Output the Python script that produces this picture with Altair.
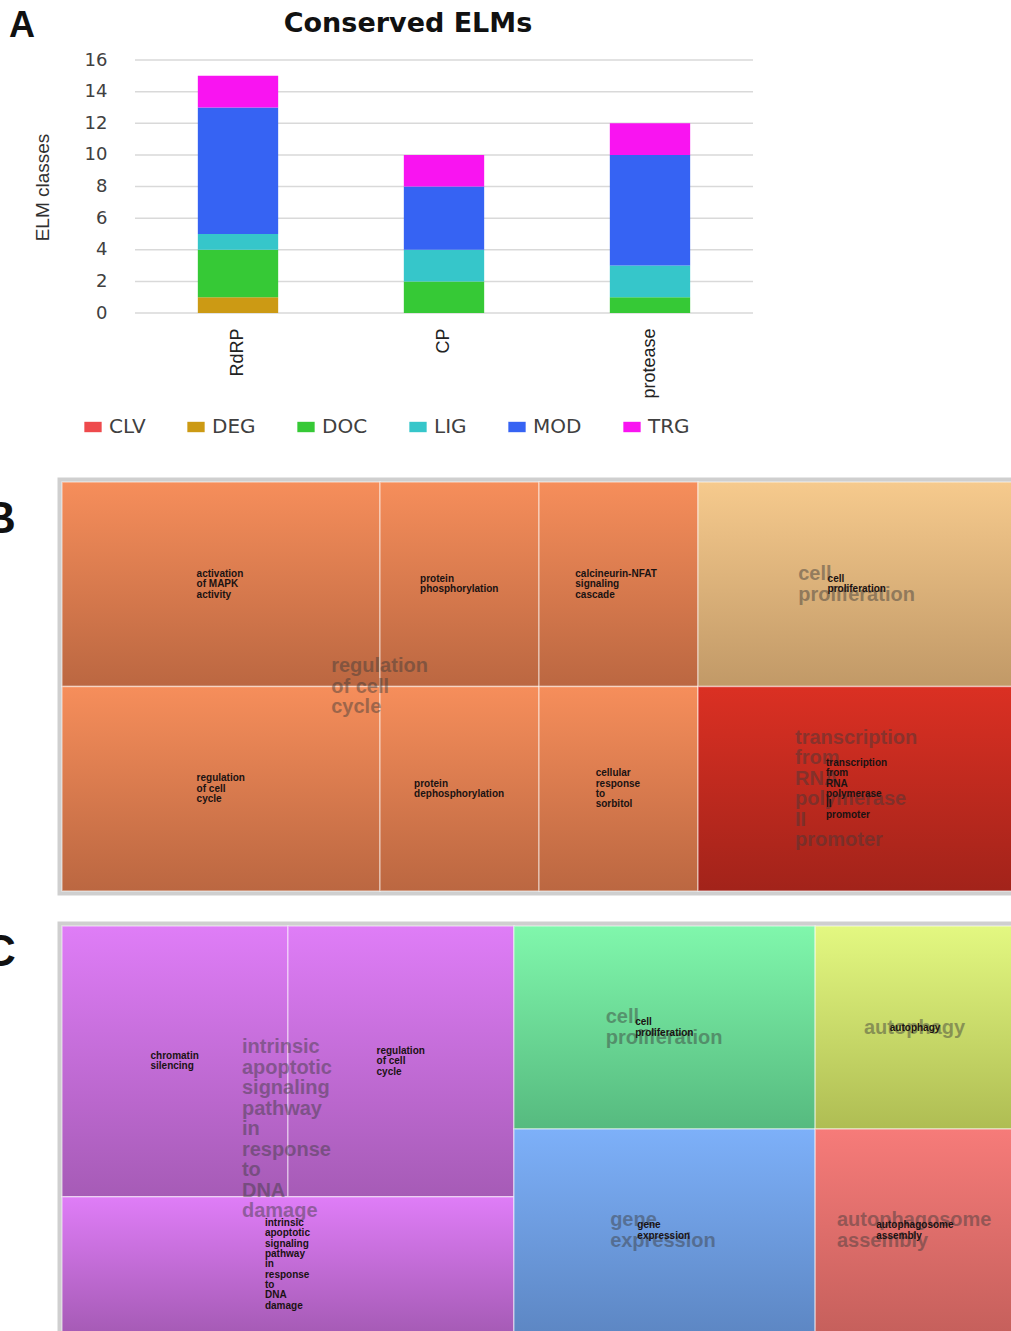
import altair as alt
import pandas as pd

# ---------------- Panel A : conserved ELMs ----------------
proteins = ["RdRP", "CP", "protease"]
elm_classes = ["CLV", "DEG", "DOC", "LIG", "MOD", "TRG"]
elm_colors = ["#EE4A4C", "#CC9A14", "#36C936", "#36C6CA", "#3663F3", "#F914F1"]
clv = [0, 0, 0]
deg = [1, 0, 0]
doc = [3, 2, 1]
lig = [1, 2, 2]
mod = [8, 4, 7]
trg = [2, 2, 2]
y_ticks = [0, 2, 4, 6, 8, 10, 12, 14, 16]
chart_title = ["Conserved ELMs"]
y_title = "ELM classes"
panel_letters = ["A", "B", "C"]

# ---------------- Panel B : treemap ----------------
b_terms = ["activation of MAPK activity", "regulation of cell cycle",
           "protein phosphorylation", "protein dephosphorylation",
           "calcineurin-NFAT signaling cascade", "cellular response to sorbitol",
           "cell proliferation", "transcription from RNA polymerase II promoter"]
b_small = ["activation\nof MAPK\nactivity", "regulation\nof cell\ncycle",
           "protein\nphosphorylation", "protein\ndephosphorylation",
           "calcineurin-NFAT\nsignaling\ncascade", "cellular\nresponse\nto\nsorbitol",
           "cell\nproliferation", "transcription\nfrom\nRNA\npolymerase\nII\npromoter"]
b_groups = ["regulation of cell cycle"] * 6 + ["cell proliferation",
                                              "transcription from RNA polymerase II promoter"]
b_sizes = [2, 2, 1, 1, 1, 1, 2, 2]
b_cols = [0, 0, 1, 1, 2, 2, 3, 3]
b_rows = [0, 1, 0, 1, 0, 1, 0, 1]
b_group_names = ["regulation of cell cycle", "cell proliferation",
                 "transcription from RNA polymerase II promoter"]
b_group_labels = ["regulation\nof cell\ncycle", "cell\nproliferation",
                  "transcription\nfrom\nRNA\npolymerase\nII\npromoter"]
b_group_top = ["#F68E5B", "#F6CA8D", "#DB3023"]
b_group_bottom = ["#BB6741", "#C19967", "#A2231A"]

# ---------------- Panel C : treemap ----------------
intr = "intrinsic apoptotic signaling pathway in response to DNA damage"
c_terms = ["chromatin silencing", "regulation of cell cycle", intr,
           "cell proliferation", "gene expression", "autophagy", "autophagosome assembly"]
c_small = ["chromatin\nsilencing", "regulation\nof cell\ncycle",
           "intrinsic\napoptotic\nsignaling\npathway\nin\nresponse\nto\nDNA\ndamage",
           "cell\nproliferation", "gene\nexpression", "autophagy", "autophagosome\nassembly"]
c_groups = [intr, intr, intr, "cell proliferation", "gene expression",
            "autophagy", "autophagosome assembly"]
c_sizes = [3, 3, 3, 3, 3, 2, 2]
c_cols = [0, 0, 0, 1, 1, 2, 2]
c_rows = [0, 0, 1, 0, 1, 0, 1]
c_group_names = [intr, "cell proliferation", "gene expression", "autophagy",
                 "autophagosome assembly"]
c_group_labels = ["intrinsic\napoptotic\nsignaling\npathway\nin\nresponse\nto\nDNA\ndamage",
                  "cell\nproliferation", "gene\nexpression", "autophagy",
                  "autophagosome\nassembly"]
c_group_top = ["#DF7DF7", "#80F7AC", "#7DB0F9", "#E3F881", "#F67B79"]
c_group_bottom = ["#A65BB6", "#56BA7F", "#5D87C4", "#AFBD53", "#C6605C"]

WIDE = "DejaVu Sans, Verdana, sans-serif"
ARIAL = "Liberation Sans, Arial, sans-serif"

BIG_LH = 20.5
SMALL_LH = 10.3


def text_width(s, size):
    w = 0.0
    for ch in s:
        if ch in "ijlI.,'|":
            w += 0.28
        elif ch in "ftr- ":
            w += 0.36
        elif ch in "mwMW":
            w += 0.9
        elif ch.isupper():
            w += 0.72
        else:
            w += 0.6
    return w * size


def treemap_layout(sizes, cols, rows):
    n = len(sizes)
    ncol = max(cols) + 1
    col_tot = [sum(sizes[i] for i in range(n) if cols[i] == k) for k in range(ncol)]
    total = float(sum(col_tot))
    rects = [None] * n
    x = 0.0
    for k in range(ncol):
        w = col_tot[k] / total
        idx = [i for i in range(n) if cols[i] == k]
        nrow = max(rows[i] for i in idx) + 1
        y = 0.0
        for r in range(nrow):
            ridx = [i for i in idx if rows[i] == r]
            rtot = float(sum(sizes[i] for i in ridx))
            h = rtot / col_tot[k]
            xx = x
            for i in ridx:
                cw = w * sizes[i] / rtot
                rects[i] = (xx, xx + cw, y, y + h)
                xx += cw
            y += h
        x += w
    return rects


def treemap_frames(terms, small, groups, sizes, cols, rows, gnames, glabels):
    rects = treemap_layout(sizes, cols, rows)
    cells = pd.DataFrame({
        "term": terms, "small": small, "group": groups,
        "x0": [r[0] for r in rects], "x1": [r[1] for r in rects],
        "y0": [r[2] for r in rects], "y1": [r[3] for r in rects],
    })
    cells["cx"] = (cells.x0 + cells.x1) / 2
    cells["cy"] = (cells.y0 + cells.y1) / 2
    g = []
    for name, lab in zip(gnames, glabels):
        sub = cells[cells.group == name]
        g.append({"group": name, "big": lab,
                  "cx": (sub.x0.min() + sub.x1.max()) / 2,
                  "cy": (sub.y0.min() + sub.y1.max()) / 2})
    return cells, pd.DataFrame(g)


def treemap_layers(cells, gdf, gnames, tops, bottoms, xsc, ysc):
    layers = []
    frame = pd.DataFrame({"x0": [0.0], "x1": [1.0], "y0": [0.0], "y1": [1.0]})
    layers.append(
        alt.Chart(frame).mark_rect(fillOpacity=0, stroke="#cfcfcf", strokeWidth=9).encode(
            x=alt.X("x0:Q", scale=xsc, axis=None), x2="x1:Q",
            y=alt.Y("y0:Q", scale=ysc, axis=None), y2="y1:Q"))
    for name, top, bot in zip(gnames, tops, bottoms):
        grad = {"gradient": "linear", "x1": 0, "y1": 0, "x2": 0, "y2": 1,
                "stops": [{"offset": 0, "color": top}, {"offset": 1, "color": bot}]}
        layers.append(
            alt.Chart(cells).transform_filter(alt.datum.group == name)
            .mark_rect(fill=grad, stroke="#ffffff", strokeOpacity=0.45, strokeWidth=1.5)
            .encode(x=alt.X("x0:Q", scale=xsc, axis=None), x2="x1:Q",
                    y=alt.Y("y0:Q", scale=ysc, axis=None), y2="y1:Q"))
    for name, lab in zip(gdf.group, gdf.big):
        lines = lab.split("\n")
        w = max(text_width(line, 20) for line in lines)
        layers.append(
            alt.Chart(gdf).transform_filter(alt.datum.group == name)
            .mark_text(align="left", baseline="middle", dx=-w / 2,
                       dy=-(len(lines) - 1) * BIG_LH / 2, font=ARIAL,
                       fontWeight="bold", fontSize=20, lineHeight=BIG_LH, lineBreak="\n",
                       color="#3a3a3a", opacity=0.45)
            .encode(x=alt.X("cx:Q", scale=xsc, axis=None),
                    y=alt.Y("cy:Q", scale=ysc, axis=None), text="big:N"))
    for term, lab in zip(cells.term, cells.small):
        lines = lab.split("\n")
        w = max(text_width(line, 10) for line in lines)
        layers.append(
            alt.Chart(cells).transform_filter(alt.datum.term == term)
            .mark_text(align="left", baseline="middle", dx=-w / 2,
                       dy=-(len(lines) - 1) * SMALL_LH / 2, font=ARIAL,
                       fontWeight="bold", fontSize=10, lineHeight=SMALL_LH, lineBreak="\n",
                       color="#1a1212")
            .encode(x=alt.X("cx:Q", scale=xsc, axis=None),
                    y=alt.Y("cy:Q", scale=ysc, axis=None), text="small:N"))
    return layers


# ---------------- build panel A ----------------
rows_a = []
series = [clv, deg, doc, lig, mod, trg]
for k, (cls, vals) in enumerate(zip(elm_classes, series)):
    for p, v in zip(proteins, vals):
        if v > 0:
            rows_a.append({"protein": p, "cls": cls, "count": v, "ord": k})
dfA = pd.DataFrame(rows_a)

ysA = alt.Scale(domain=[0, 16], range=[313, 60], nice=False, zero=True)
xsA = alt.Scale(domain=proteins, range=[135, 753], paddingInner=0.61, paddingOuter=0.305)

grid = alt.Chart(pd.DataFrame({"v": y_ticks})).mark_rule(color="#d9d9d9", strokeWidth=1.5).encode(
    y=alt.Y("v:Q", scale=ysA, axis=None),
    x=alt.value(135), x2=alt.value(753))

bars = alt.Chart(dfA).mark_bar().encode(
    x=alt.X("protein:N", scale=xsA,
            axis=alt.Axis(title=None, labelAngle=-90, labelFont=ARIAL, labelFontSize=18,
                          labelColor="#222222", labelPadding=15, domain=False, ticks=False,
                          tickSize=0, offset=313 - 1331)),
    y=alt.Y("count:Q", stack="zero", scale=ysA,
            axis=alt.Axis(values=y_ticks, title=y_title, domain=False, ticks=False, tickSize=0,
                          grid=False, offset=-135, labelPadding=28, labelFont=WIDE,
                          labelFontSize=18, labelColor="#404040", titleFont=ARIAL,
                          titleFontSize=19, titleFontWeight="normal", titleColor="#303030",
                          titleX=-93, titleY=187, titleAlign="center",
                          titleBaseline="middle", titleAngle=-90)),
    color=alt.Color("cls:N", scale=alt.Scale(domain=elm_classes, range=elm_colors),
                    legend=alt.Legend(orient="none", legendX=83, legendY=417,
                                      direction="horizontal", columns=6, title=None,
                                      symbolType="M-1,-0.6L1,-0.6L1,0.6L-1,0.6Z",
                                      symbolSize=300, symbolStrokeWidth=0, symbolOpacity=1,
                                      labelFont=WIDE, labelFontSize=20,
                                      labelColor="#404040", labelOffset=6,
                                      columnPadding=40, padding=0)),
    order=alt.Order("ord:Q", sort="ascending"),
)

title_layer = alt.Chart(pd.DataFrame({"t": chart_title})).mark_text(
    font=WIDE, fontWeight="bold", fontSize=27, color="#111111", align="center",
    baseline="alphabetic").encode(x=alt.value(408), y=alt.value(32), text="t:N")

letters_df = pd.DataFrame({"t": panel_letters})
letter_a = alt.Chart(letters_df).transform_filter(alt.datum.t == "A").mark_text(
    font=ARIAL, fontWeight="bold", fontSize=36, color="#111111", align="left",
    baseline="alphabetic").encode(x=alt.value(9), y=alt.value(37), text="t:N")
letter_b = alt.Chart(letters_df).transform_filter(alt.datum.t == "B").mark_text(
    font=ARIAL, fontWeight="bold", fontSize=44, color="#111111", align="left",
    baseline="alphabetic").encode(x=alt.value(-16), y=alt.value(533), text="t:N")
letter_c = alt.Chart(letters_df).transform_filter(alt.datum.t == "C").mark_text(
    font=ARIAL, fontWeight="bold", fontSize=44, color="#111111", align="left",
    baseline="alphabetic").encode(x=alt.value(-16), y=alt.value(966), text="t:N")

# ---------------- build panels B, C ----------------
cellsB, groupsB = treemap_frames(b_terms, b_small, b_groups, b_sizes, b_cols, b_rows,
                                 b_group_names, b_group_labels)
cellsC, groupsC = treemap_frames(c_terms, c_small, c_groups, c_sizes, c_cols, c_rows,
                                 c_group_names, c_group_labels)

xsT = alt.Scale(domain=[0, 1], range=[62, 1016], nice=False, zero=False)
ysB = alt.Scale(domain=[0, 1], range=[482, 891], nice=False, zero=False)
ysC = alt.Scale(domain=[0, 1], range=[926, 1332], nice=False, zero=False)

layersB = treemap_layers(cellsB, groupsB, b_group_names, b_group_top, b_group_bottom, xsT, ysB)
layersC = treemap_layers(cellsC, groupsC, c_group_names, c_group_top, c_group_bottom, xsT, ysC)

all_layers = [grid, bars, title_layer, letter_a] + layersB + layersC + [letter_b, letter_c]

chart = alt.layer(*all_layers).resolve_scale(
    x="independent", y="independent"
).properties(
    width=1011, height=1331, padding=0, background="white",
    autosize=alt.AutoSizeParams(type="none"),
).configure_view(stroke=None)

chart.save("out.html", embed_options={"renderer": "svg", "actions": False})
